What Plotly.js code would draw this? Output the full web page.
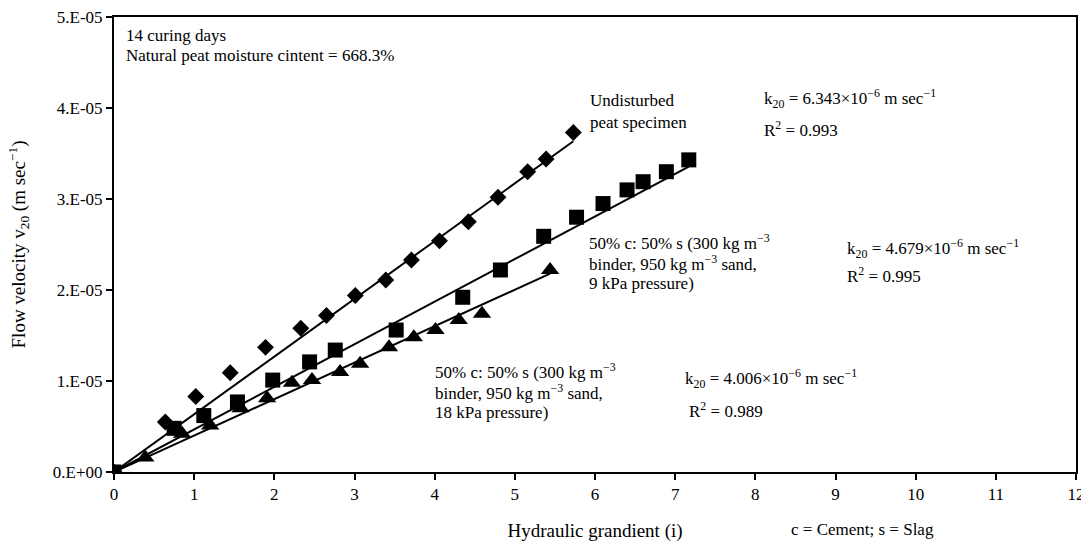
<!DOCTYPE html>
<html>
<head>
<meta charset="utf-8">
<script src="https://cdn.plot.ly/plotly-3.0.1.min.js"></script>
<style>html,body{margin:0;padding:0;background:#fff;}#chart{width:1081px;height:548px;}</style>
</head>
<body>
<div id="chart"></div>
<script>
// Undisturbed peat specimen (diamonds)
const undisturbedX = [0, 0.64, 1.02, 1.45, 1.89, 2.33, 2.65, 3.01, 3.39, 3.71, 4.06, 4.42, 4.79, 5.16, 5.39, 5.73];
const undisturbedY = [0, 0.55e-5, 0.83e-5, 1.09e-5, 1.37e-5, 1.58e-5, 1.72e-5, 1.94e-5, 2.11e-5, 2.33e-5, 2.54e-5, 2.75e-5, 3.02e-5, 3.30e-5, 3.44e-5, 3.73e-5];
// 50% c : 50% s, 9 kPa (squares)
const p9X = [0, 0.75, 1.12, 1.54, 1.98, 2.44, 2.76, 3.52, 4.35, 4.82, 5.36, 5.77, 6.10, 6.40, 6.60, 6.89, 7.17];
const p9Y = [0, 0.48e-5, 0.62e-5, 0.77e-5, 1.01e-5, 1.21e-5, 1.34e-5, 1.56e-5, 1.92e-5, 2.22e-5, 2.59e-5, 2.80e-5, 2.95e-5, 3.10e-5, 3.19e-5, 3.30e-5, 3.43e-5];
// 50% c : 50% s, 18 kPa (triangles)
const p18X = [0, 0.39, 0.85, 1.20, 1.58, 1.91, 2.22, 2.47, 2.82, 3.07, 3.43, 3.74, 4.01, 4.30, 4.59, 5.44];
const p18Y = [0, 0.16e-5, 0.42e-5, 0.51e-5, 0.70e-5, 0.81e-5, 0.98e-5, 1.01e-5, 1.10e-5, 1.19e-5, 1.37e-5, 1.48e-5, 1.56e-5, 1.67e-5, 1.74e-5, 2.22e-5];
// fitted permeability k20 (slopes, m/sec)
const kValues = [6.343e-6, 4.679e-6, 4.006e-6];
const xTickVals = [0,1,2,3,4,5,6,7,8,9,10,11,12];
const yTickVals = [0, 1e-5, 2e-5, 3e-5, 4e-5, 5e-5];
const yTickText = ['0.E+00','1.E-05','2.E-05','3.E-05','4.E-05','5.E-05'];

const FONT = 'Liberation Serif, Times New Roman, serif';
const series = [
  {x: undisturbedX, y: undisturbedY, sym: 'diamond', size: 13, k: kValues[0]},
  {x: p9X, y: p9Y, sym: 'square', size: 15, k: kValues[1]},
  {x: p18X, y: p18Y, sym: 'triangle-up', size: 16, k: kValues[2]}
];
const traces = [];
series.forEach(s => {
  const xe = Math.max.apply(null, s.x);
  traces.push({x: [0, xe], y: [0, s.k * xe], mode: 'lines', line: {color: '#000', width: 2}, hoverinfo: 'skip', showlegend: false});
  traces.push({x: s.x, y: s.y, mode: 'markers', marker: {symbol: s.sym, size: s.size, color: '#000'}, showlegend: false});
});

function px(xp){ return (xp - 113.5) / 962.5; }
function py(yp){ return (471.7 - yp) / 455; }
const af = {family: FONT, size: 17, color: '#000'};
function ann(text, x, y, opts){
  return Object.assign({text: text, xref: 'paper', yref: 'paper', x: px(x), y: py(y), xanchor: 'left', yanchor: 'middle', align: 'left', showarrow: false, font: af}, opts||{});
}
const annotations = [
  ann('14 curing days', 124, 35),
  ann('Natural peat moisture cintent = 668.3%', 124, 55),
  ann('Undisturbed', 588, 100),
  ann('peat specimen', 588, 122),
  ann('k<sub>20</sub> = 6.343×10<sup>−6</sup> m sec<sup>−1</sup>', 762, 98),
  ann('R<sup>2</sup> = 0.993', 762, 129),
  ann('50% c: 50% s (300 kg m<sup>−3</sup>', 587, 242),
  ann('binder, 950 kg m<sup>−3</sup> sand,', 587, 263),
  ann('9 kPa pressure)', 587, 283),
  ann('k<sub>20</sub> = 4.679×10<sup>−6</sup> m sec<sup>−1</sup>', 845, 248),
  ann('R<sup>2</sup> = 0.995', 845, 275),
  ann('50% c: 50% s (300 kg m<sup>−3</sup>', 433, 371),
  ann('binder, 950 kg m<sup>−3</sup> sand,', 433, 392),
  ann('18 kPa pressure)', 433, 412),
  ann('k<sub>20</sub> = 4.006×10<sup>−6</sup> m sec<sup>−1</sup>', 683, 378),
  ann('R<sup>2</sup> = 0.989', 687, 410),
  ann('c = Cement; s = Slag', 862, 529, {xanchor: 'center'})
];

const layout = {
  width: 1081, height: 548,
  margin: {l: 113.5, r: 5, t: 16.7, b: 76.3},
  paper_bgcolor: '#fff', plot_bgcolor: '#fff',
  font: {family: FONT, size: 17, color: '#000'},
  showlegend: false,
  xaxis: {
    range: [0, 12], tickvals: xTickVals, ticks: 'outside', ticklen: 6, tickwidth: 2, tickcolor: '#000',
    showline: true, linewidth: 2, linecolor: '#000', mirror: true, showgrid: false, zeroline: false,
    ticklabeloverflow: 'allow',
    tickfont: {family: FONT, size: 17},
    title: {text: 'Hydraulic grandient (i)', font: {family: FONT, size: 19}, standoff: 20}
  },
  yaxis: {
    range: [0, 5e-5], tickvals: yTickVals, ticktext: yTickText, ticks: 'outside', ticklen: 6, tickwidth: 2, tickcolor: '#000',
    showline: true, linewidth: 2, linecolor: '#000', mirror: true, showgrid: false, zeroline: false,
    ticklabeloverflow: 'allow',
    tickfont: {family: FONT, size: 17},
    title: {text: 'Flow velocity v<sub>20</sub> (m sec<sup>−1</sup>)', font: {family: FONT, size: 19}, standoff: 22}
  },
  annotations: annotations
};
Plotly.newPlot('chart', traces, layout, {displayModeBar: false, staticPlot: true});
</script>
</body>
</html>
